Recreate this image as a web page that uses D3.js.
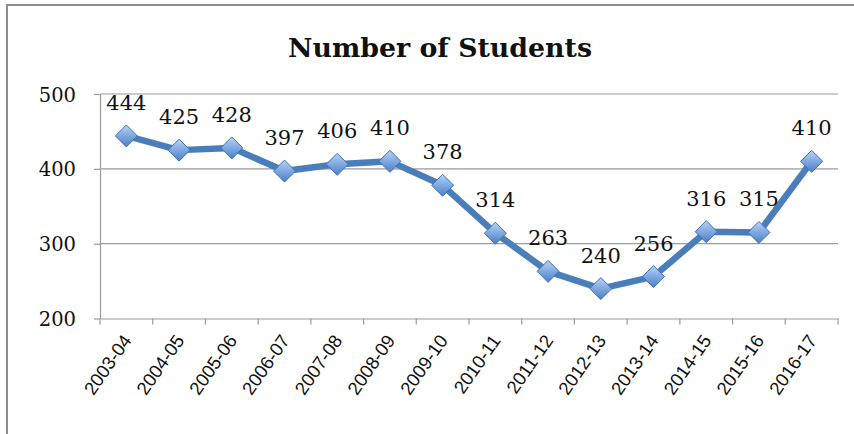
<!DOCTYPE html>
<html>
<head>
<meta charset="utf-8">
<script src="https://cdn.jsdelivr.net/npm/d3@7"></script>
<style>
  html, body { margin: 0; padding: 0; background: #fff; }
  svg { display: block; }
</style>
</head>
<body>
<script>
const years = ["2003-04","2004-05","2005-06","2006-07","2007-08","2008-09","2009-10","2010-11","2011-12","2012-13","2013-14","2014-15","2015-16","2016-17"];
const students = [444,425,428,397,406,410,378,314,263,240,256,316,315,410];
const yTicks = [200,300,400,500];
const titleText = "Number of Students";

const W = 854, H = 434;
const svg = d3.select("body").append("svg").attr("width", W).attr("height", H);

// outer frame
svg.append("path")
  .attr("d", `M7,${H} L7,5 L${W},5`)
  .attr("fill", "none").attr("stroke", "#8c8c8c").attr("stroke-width", 2);

const plot = {left: 100, right: 838, top: 94, bottom: 318.5};
const x = d3.scaleBand().domain(years).range([plot.left, plot.right]).padding(0);
const y = d3.scaleLinear().domain([200, 500]).range([plot.bottom, plot.top]);

const defs = svg.append("defs");
const grad = defs.append("linearGradient").attr("id", "mk").attr("x1", "0").attr("y1", "0").attr("x2", "0").attr("y2", "1");
grad.append("stop").attr("offset", "0%").attr("stop-color", "#b9d3f3");
grad.append("stop").attr("offset", "50%").attr("stop-color", "#7fa9e0");
grad.append("stop").attr("offset", "100%").attr("stop-color", "#4a7ec4");

// gridlines
svg.append("g").selectAll("line").data(yTicks.filter(d => d !== 200)).join("line")
  .attr("x1", plot.left).attr("x2", plot.right)
  .attr("y1", d => y(d)).attr("y2", d => y(d))
  .attr("stroke", "#9a9a9a").attr("stroke-width", 1.2);

// y axis
const yAxis = svg.append("g").attr("transform", `translate(${plot.left},0)`)
  .call(d3.axisLeft(y).tickValues(yTicks).tickSize(6).tickPadding(18).tickSizeOuter(0));
yAxis.select(".domain").attr("stroke", "#9a9a9a").attr("stroke-width", 1.2);
yAxis.selectAll(".tick line").attr("stroke", "#9a9a9a").attr("stroke-width", 1.2);
yAxis.selectAll(".tick text")
  .attr("font-family", "'DejaVu Serif', serif").attr("font-size", 19.5).attr("fill", "#111")
  .attr("dy", "0.36em");

// x axis
const xAxis = svg.append("g").attr("transform", `translate(0,${plot.bottom})`)
  .call(d3.axisBottom(x).tickSize(0).tickFormat(""));
xAxis.select(".domain").attr("stroke", "#9a9a9a").attr("stroke-width", 1.2);
const boundaries = years.map(d => x(d)).concat([x(years[years.length-1]) + x.bandwidth()]);
svg.append("g").selectAll("line").data(boundaries).join("line")
  .attr("x1", d => d).attr("x2", d => d)
  .attr("y1", plot.bottom).attr("y2", plot.bottom + 6)
  .attr("stroke", "#9a9a9a").attr("stroke-width", 1.2);

svg.append("g").selectAll("text").data(years).join("text")
  .attr("transform", d => `translate(${x(d) + x.bandwidth()/2 + 6},${plot.bottom + 22}) rotate(-55)`)
  .attr("text-anchor", "end")
  .attr("font-family", "'Liberation Sans', Arial, sans-serif").attr("font-size", 18.5)
  .attr("fill", "#111")
  .text(d => d);

// line
const cx = d => x(d) + x.bandwidth()/2;
const line = d3.line().x((d, i) => cx(years[i])).y(d => y(d));
svg.append("path").datum(students)
  .attr("d", line)
  .attr("fill", "none").attr("stroke", "#4a7ebb").attr("stroke-width", 6.5)
  .attr("stroke-linejoin", "round");

// markers
const s = 11;
svg.append("g").selectAll("path").data(students).join("path")
  .attr("d", (d, i) => {
    const px = cx(years[i]), py = y(d);
    return `M${px},${py - s} L${px + s},${py} L${px},${py + s} L${px - s},${py} Z`;
  })
  .attr("fill", "url(#mk)").attr("stroke", "#3f6fae").attr("stroke-width", 1);

// data labels
svg.append("g").selectAll("text").data(students).join("text")
  .attr("x", (d, i) => cx(years[i]))
  .attr("y", d => y(d) - 26)
  .attr("text-anchor", "middle")
  .attr("font-family", "'DejaVu Serif', serif").attr("font-size", 21)
  .attr("fill", "#111")
  .text(d => d);

// title
svg.append("text")
  .attr("x", 440).attr("y", 57)
  .attr("text-anchor", "middle")
  .attr("font-family", "'DejaVu Serif', serif").attr("font-weight", "bold").attr("font-size", 26)
  .attr("textLength", 304).attr("lengthAdjust", "spacingAndGlyphs")
  .attr("fill", "#111")
  .text(titleText);
</script>
</body>
</html>
